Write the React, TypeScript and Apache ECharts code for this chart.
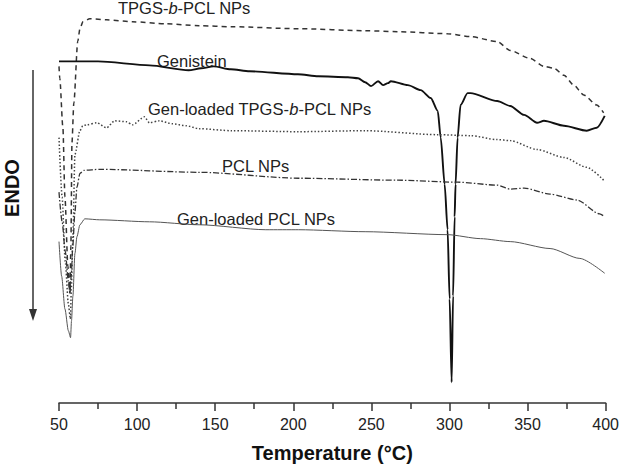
import React, { useEffect, useRef } from "react";
import * as echarts from "echarts";

// Temperature (°C) and heat-flow signal (arbitrary units, endo down)
const tpgsT = [50, 50.5, 52.5, 53.8, 55.7, 57, 57.6, 58.3, 59.5, 62, 63.4, 65.3, 69.7, 80.5, 97.1, 118.7, 139.7, 160.7, 203.4, 246, 267, 298.8, 313.5, 330.6, 338.9, 351.6, 360.5, 366.9, 373.3, 379.6, 386, 394.3, 398.7];
const tpgsV = [340, 328, 278, 208, 138, 111, 158, 263, 303, 365, 378, 385, 388, 387, 385, 383, 381, 380, 378, 376, 375, 373, 370, 365, 356, 348, 340, 338, 331, 321, 311, 301, 293];

const genT = [50, 75, 108, 133, 141, 149, 160, 172, 203, 216, 235, 241.5, 246, 249.8, 254.3, 257.5, 260.6, 262.5, 273.4, 281.6, 288, 292.5, 294.4, 296.9, 298.8, 300.1, 301.4, 302.3, 303.3, 303.9, 305.2, 307.1, 311.6, 313.5, 330.6, 338.9, 347.8, 356.1, 360.5, 373.3, 387.9, 394.3, 399.4];
const genV = [345, 345, 341, 336, 338, 340, 337, 335, 332, 330, 329, 328, 324, 320, 325, 321, 323, 325, 321, 316, 308, 295, 268, 221, 175, 105, 21, 108, 188, 221, 268, 301, 313, 313, 305, 300, 291, 283, 285, 280, 275, 278, 290];

const genTpgsT = [50, 52, 54, 56, 57.3, 57.9, 58.9, 60.2, 63.4, 65.3, 67.8, 74.2, 80.5, 85.6, 93.3, 97.1, 104.7, 107.9, 114.3, 122.5, 131.5, 139.7, 160.7, 203.4, 246, 292.5, 313.5, 330.6, 338.9, 356.1, 373.3, 387.9, 398.7];
const genTpgsV = [268, 208, 143, 100, 85, 115, 168, 251, 275, 280, 281, 283, 278, 285, 284, 281, 289, 283, 285, 282, 280, 277, 275, 274, 275, 271, 270, 266, 265, 256, 248, 238, 225];

const pclT = [50, 52, 54, 56, 57, 57.8, 58.8, 60.2, 61.5, 63.4, 66, 76, 139.7, 203.4, 267, 305.2, 330.6, 338.9, 347.8, 364.4, 381.6, 396.2, 399.5];
const pclV = [213, 183, 153, 123, 111, 128, 158, 193, 218, 232, 235, 236, 233, 227, 225, 223, 220, 216, 217, 211, 205, 191, 188];

const genPclT = [50, 51.7, 53.8, 56, 57.4, 58, 58.9, 60.2, 61.5, 63.4, 66.5, 76.1, 107.9, 139.7, 182.4, 203.4, 246, 298.8, 319.8, 338.9, 364.4, 383.5, 399.4];
const genPclV = [163, 128, 95, 73, 66, 83, 108, 151, 168, 180, 186, 185, 183, 180, 175, 175, 173, 170, 166, 163, 156, 146, 131];

const seriesNames = ["TPGS-b-PCL NPs", "Genistein", "Gen-loaded TPGS-b-PCL NPs", "PCL NPs", "Gen-loaded PCL NPs"];
const xMin = 50;
const xMax = 400;
const xStep = 50;
const axisTitle = "Temperature (°C)";
const yTitle = "ENDO";

const FONT = "'Liberation Sans', Arial, Helvetica, sans-serif";

function pairs(t: number[], v: number[]) {
  return t.map((x, i) => [x, v[i]]);
}

export default function App() {
  const ref = useRef<HTMLDivElement>(null);
  useEffect(() => {
    document.body.style.margin = "0";
    const chart = echarts.init(ref.current!, undefined, { renderer: "svg" });
    const lineBase = { type: "line", showSymbol: false, symbol: "none", smooth: 0.25, smoothMonotone: "x", silent: true };
    const richItalic = (s: string) => s.replace(/-b-/g, "-}{i|b}{n|-");
    const labelText = (name: string, x: number, y: number) => ({
      type: "text",
      x,
      y,
      style: {
        text: "{n|" + richItalic(name) + "}",
        rich: {
          n: { fontSize: 16.5, fontFamily: FONT, fill: "#222", color: "#222" },
          i: { fontSize: 16.5, fontFamily: FONT, fontStyle: "italic", fill: "#222", color: "#222" },
        },
        verticalAlign: "middle",
        align: "left",
      },
    });
    chart.setOption({
      animation: false,
      backgroundColor: "#fff",
      grid: { left: 59, right: 13, top: 0, bottom: 61, containLabel: false },
      xAxis: {
        type: "value",
        min: xMin,
        max: xMax,
        interval: xStep,
        name: axisTitle,
        nameLocation: "middle",
        nameGap: 40,
        nameTextStyle: { fontSize: 20, fontWeight: "bold", fontFamily: FONT, color: "#111" },
        axisLine: { show: true, lineStyle: { color: "#333", width: 1.5 } },
        axisTick: { show: true, inside: false, length: 8, lineStyle: { color: "#333", width: 1.5 } },
        minorTick: { show: true, splitNumber: 2, length: 6, lineStyle: { color: "#333", width: 1.5 } },
        axisLabel: { fontSize: 16, fontFamily: FONT, color: "#222", margin: 13 },
        splitLine: { show: false },
      },
      yAxis: { type: "value", min: 0, max: 407, show: false },
      series: [
        { ...lineBase, name: seriesNames[0], data: pairs(tpgsT, tpgsV), lineStyle: { color: "#333", width: 1.5, type: [5, 4] } },
        { ...lineBase, name: seriesNames[1], data: pairs(genT, genV), lineStyle: { color: "#111", width: 1.9, type: "solid" } },
        { ...lineBase, name: seriesNames[2], data: pairs(genTpgsT, genTpgsV), lineStyle: { color: "#444", width: 1.5, type: [1.5, 2] } },
        { ...lineBase, name: seriesNames[3], data: pairs(pclT, pclV), lineStyle: { color: "#333", width: 1.3, type: [6, 2, 1.5, 2] } },
        { ...lineBase, name: seriesNames[4], data: pairs(genPclT, genPclV), lineStyle: { color: "#555", width: 1, type: "solid" } },
      ],
      graphic: [
        labelText(seriesNames[0], 118, 8),
        labelText(seriesNames[1], 157, 61),
        labelText(seriesNames[2], 148, 109),
        labelText(seriesNames[3], 222, 166),
        labelText(seriesNames[4], 177, 219),
        {
          type: "text",
          x: 12,
          y: 188,
          rotation: Math.PI / 2,
          style: { text: yTitle, fontSize: 20, fontWeight: "bold", fontFamily: FONT, fill: "#111", align: "center", verticalAlign: "middle" },
        },
        { type: "line", shape: { x1: 33, y1: 70, x2: 33, y2: 312 }, style: { stroke: "#333", lineWidth: 1.5 } },
        { type: "polygon", shape: { points: [[29, 309], [37, 309], [33, 321]] }, style: { fill: "#333" } },
      ],
    });
    return () => chart.dispose();
  }, []);
  return <div ref={ref} style={{ position: "fixed", left: 0, top: 0, width: 622, height: 468 }} />;
}
